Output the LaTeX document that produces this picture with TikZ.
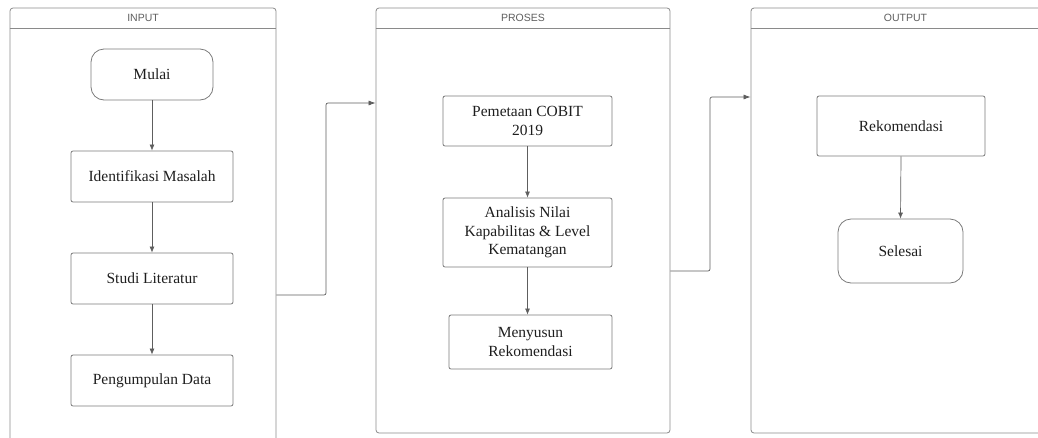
\documentclass[tikz,border=0pt]{standalone}
\usepackage{fontspec}
\setmainfont{Liberation Serif}
\setsansfont{Liberation Sans}
\usepackage{xcolor}
\usepackage{tikz}
\usetikzlibrary{arrows.meta, positioning, calc}
\definecolor{lanegray}{HTML}{8A8A8A}
\definecolor{boxgray}{HTML}{7A7A7A}
\definecolor{linegray}{HTML}{5E5E5E}
\definecolor{txtgray}{HTML}{1E1E1E}
\tikzstyle{lane} = [draw=lanegray, line width=0.8pt, rounded corners=3pt, inner sep=0pt]
\tikzstyle{lanelabel} = [font=\sffamily\fontsize{10.5}{12}\selectfont, text=linegray]
\tikzstyle{procbox} = [draw=boxgray, line width=0.8pt, rounded corners=2pt, align=center, text=txtgray, font=\fontsize{15.5}{18.7}\selectfont]
\tikzstyle{termbox} = [procbox, rounded corners=13pt]
\tikzstyle{arrow} = [draw=linegray, line width=0.7pt, -{Latex[length=6pt,width=5pt]}]
\tikzstyle{link} = [draw=linegray, line width=0.7pt, rounded corners=2pt, -{Latex[length=7pt,width=5pt]}]

\begin{document}
\begin{tikzpicture}[x=1pt, y=-1pt]
    \useasboundingbox (0,0) rectangle (1038,437);
    \clip (0,0) rectangle (1038,437);

    % Lanes
    \node[lane, minimum width=266pt, minimum height=452pt] (inlane) at (143, 234) {};
    \node[lane, minimum width=294pt, minimum height=425pt] (proslane) at (523, 220.5) {};
    \node[lane, minimum width=309pt, minimum height=425pt] (outlane) at (905.5, 220.5) {};
    \draw[lanegray, line width=0.8pt] ([yshift=-21pt]inlane.north west) -- ([yshift=-21pt]inlane.north east);
    \draw[lanegray, line width=0.8pt] ([yshift=-21pt]proslane.north west) -- ([yshift=-21pt]proslane.north east);
    \draw[lanegray, line width=0.8pt] ([yshift=-21pt]outlane.north west) -- ([yshift=-21pt]outlane.north east);
    \node[lanelabel] (inlabel) at ([yshift=-10.5pt]inlane.north) {INPUT};
    \node[lanelabel] (proslabel) at ([yshift=-10.5pt]proslane.north) {PROSES};
    \node[lanelabel] (outlabel) at ([yshift=-10.5pt]outlane.north) {OUTPUT};

    % INPUT
    \node[termbox, minimum width=122pt, minimum height=51pt] (mulai) at (152, 74.5) {Mulai};
    \node[procbox, minimum width=162pt, minimum height=51pt] (identifikasi) at (152, 176.5) {Identifikasi Masalah};
    \node[procbox, minimum width=162pt, minimum height=51pt] (studi) at (152, 278.5) {Studi Literatur};
    \node[procbox, minimum width=162pt, minimum height=51pt] (pengumpulan) at (152, 380.5) {Pengumpulan Data};

    % PROSES
    \node[procbox, minimum width=169pt, minimum height=50pt] (pemetaan) at (527.5, 121) {Pemetaan COBIT\\2019};
    \node[procbox, minimum width=169pt, minimum height=69pt] (analisis) at (527.5, 232.5) {Analisis Nilai\\Kapabilitas \& Level\\Kematangan};
    \node[procbox, minimum width=163pt, minimum height=54pt] (menyusun) at (530.5, 342) {Menyusun\\Rekomendasi};

    % OUTPUT
    \node[procbox, minimum width=168pt, minimum height=60pt] (rekomendasi) at (901, 126) {Rekomendasi};
    \node[termbox, minimum width=125pt, minimum height=64pt] (selesai) at (900.5, 251) {Selesai};

    % Arrows
    \draw[arrow] (mulai.south) -- (identifikasi.north);
    \draw[arrow] (identifikasi.south) -- (studi.north);
    \draw[arrow] (studi.south) -- (pengumpulan.north);
    \draw[arrow] (pemetaan.south) -- (analisis.north);
    \draw[arrow] (analisis.south) -- (analisis.south |- menyusun.north);
    \draw[arrow] (rekomendasi.south) -- (selesai.north);

    % Between lanes
    \draw[link] (inlane.east |- 0,295) -- (326, 295) -- (326, 103) -- (proslane.west |- 0,103);
    \draw[link] (proslane.east |- 0,271) -- (710, 271) -- (710, 97) -- (outlane.west |- 0,97);
\end{tikzpicture}
\end{document}
